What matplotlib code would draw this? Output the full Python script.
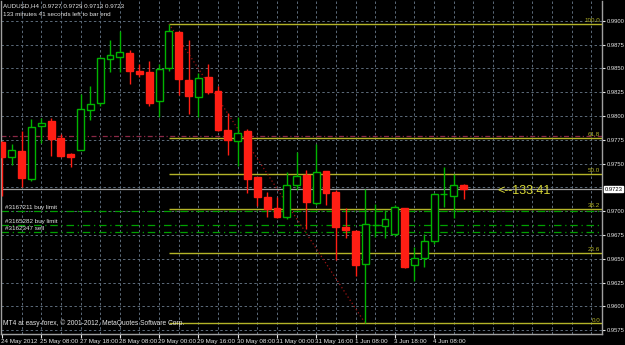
import numpy as np
import matplotlib
matplotlib.use("Agg")
import matplotlib.pyplot as plt
import matplotlib.transforms as mtransforms

# AUDUSD H4 candles
opens = [0.9773, 0.9757, 0.9763, 0.9734, 0.9789, 0.9795, 0.9777, 0.9760, 0.9764, 0.9806,
         0.9814, 0.9860, 0.9862, 0.9866, 0.9847, 0.9846, 0.9816, 0.9851, 0.9888, 0.9838,
         0.9820, 0.9841, 0.9826, 0.9785, 0.9774, 0.9784, 0.9736, 0.9715, 0.9703, 0.9694,
         0.9728, 0.9738, 0.9709, 0.9742, 0.9720, 0.9683, 0.9679, 0.9644, 0.9685, 0.9684,
         0.9676, 0.9703, 0.9643, 0.9651, 0.9669, 0.9718, 0.9716, 0.9727]
highs = [0.9774, 0.9771, 0.9784, 0.9797, 0.9798, 0.9798, 0.9781, 0.9761, 0.9823, 0.9832,
         0.9862, 0.9880, 0.9889, 0.9869, 0.9855, 0.9858, 0.9855, 0.9897, 0.9889, 0.9880,
         0.9845, 0.9855, 0.9832, 0.9803, 0.9799, 0.9786, 0.9736, 0.9720, 0.9715, 0.9741,
         0.9762, 0.9743, 0.9771, 0.9742, 0.9722, 0.9703, 0.9680, 0.9723, 0.9708, 0.9701,
         0.9707, 0.9703, 0.9662, 0.9676, 0.9719, 0.9746, 0.9739, 0.9729]
lows = [0.9716, 0.9749, 0.9725, 0.9732, 0.9772, 0.9758, 0.9757, 0.9746, 0.9764, 0.9796,
        0.9811, 0.9846, 0.9846, 0.9834, 0.9841, 0.9811, 0.9799, 0.9847, 0.9822, 0.9802,
        0.9799, 0.9823, 0.9784, 0.9759, 0.9747, 0.9719, 0.9705, 0.9694, 0.9693, 0.9692,
        0.9722, 0.9681, 0.9706, 0.9706, 0.9649, 0.9672, 0.9632, 0.9582, 0.9673, 0.9672,
        0.9674, 0.9640, 0.9627, 0.9641, 0.9665, 0.9704, 0.9693, 0.9713]
closes = [0.9757, 0.9764, 0.9735, 0.9788, 0.9793, 0.9776, 0.9758, 0.9757, 0.9807, 0.9813,
          0.9861, 0.9864, 0.9867, 0.9847, 0.9844, 0.9814, 0.9849, 0.9889, 0.9839, 0.9821,
          0.9840, 0.9825, 0.9785, 0.9775, 0.9782, 0.9734, 0.9715, 0.9702, 0.9694, 0.9727,
          0.9737, 0.9710, 0.9741, 0.9719, 0.9683, 0.9680, 0.9643, 0.9686, 0.9685, 0.9692,
          0.9704, 0.9641, 0.9651, 0.9669, 0.9718, 0.9718, 0.9728, 0.9723]

time_labels = ["24 May 2012", "25 May 08:00", "27 May 18:00", "28 May 08:00", "29 May 00:00",
               "29 May 16:00", "30 May 08:00", "31 May 00:00", "31 May 16:00", "1 Jun 08:00",
               "3 Jun 18:00", "4 Jun 08:00"]
time_label_bars = [0, 4, 8, 12, 16, 20, 24, 28, 32, 36, 40, 44]

price_ticks = [0.9575, 0.9600, 0.9625, 0.9650, 0.9675, 0.9700, 0.9725, 0.9750,
               0.9775, 0.9800, 0.9825, 0.9850, 0.9875, 0.9900]

fib_ratios = [0.0, 0.236, 0.382, 0.5, 0.618, 1.0]
fib_names = ["0.0", "23.6", "38.2", "50.0", "61.8", "100.0"]
fib_start_bar = 17
fib_end_bar = 37

order_prices = [0.9700, 0.9685, 0.9678]
order_names = ["#3167211 buy limit", "#3165282 buy limit", "#3162347 sell"]
maroon_level = 0.9779
bid = 0.9723

BG = "black"
UP = "#00b400"
DOWN = "#ff1e14"
GRID = "#5c6b7a"
FIBC = "#b4b428"
TXT = "#e6e6e6"
FONT = ["Liberation Sans", "DejaVu Sans"]
FS = 4.5

fig = plt.figure(figsize=(6.25, 3.45), dpi=100, facecolor=BG)
ax = fig.add_axes([1 / 625, 11 / 345, 601 / 625, 333 / 345])
ax.set_facecolor(BG)

n = len(opens)
x = np.arange(n)
o, h, l, c = map(np.array, (opens, highs, lows, closes))
up = c >= o

ax.set_xlim(-0.1, 61.1)
ax.set_ylim(0.95709, 0.99209)

# grid
for p in price_ticks:
    ax.axhline(p, color=GRID, lw=0.7, ls=(0, (2.5, 2.5)), zorder=0)
for b in range(2, 62, 2):
    ax.axvline(b, color=GRID, lw=0.7, ls=(0, (2.5, 2.5)), zorder=0)

# candles
w = 0.7
ax.vlines(x[up], l[up], h[up], color=UP, lw=1.0, zorder=3)
ax.vlines(x[~up], l[~up], h[~up], color=DOWN, lw=1.0, zorder=3)
for i in range(n):
    if o[i] == c[i]:
        ax.hlines(o[i], i - w / 2, i + w / 2, color=UP, lw=1.0, zorder=4)
    elif up[i]:
        ax.bar(i, c[i] - o[i], w, bottom=o[i], facecolor=BG, edgecolor=UP, lw=1.0, zorder=4)
    else:
        ax.bar(i, o[i] - c[i], w, bottom=c[i], facecolor=DOWN, edgecolor=DOWN, lw=1.0, zorder=4)

# fibonacci retracement
fib_hi = h[fib_start_bar]
fib_lo = l[fib_end_bar]
for r, name in zip(fib_ratios, fib_names):
    lev = fib_lo + r * (fib_hi - fib_lo)
    ax.hlines(lev, fib_start_bar, 61.1, color=FIBC, lw=1.0, zorder=2)
    ax.text(60.9, lev + 0.00008, name, color=FIBC, fontsize=FS, family=FONT,
            ha="right", va="bottom", zorder=6)
ax.plot([fib_start_bar, fib_end_bar], [fib_hi, fib_lo], color="#a01414", lw=0.9,
        ls=(0, (1, 2)), zorder=2)

# horizontal maroon level
ax.axhline(maroon_level, color="#8a2846", lw=0.9, ls=(0, (4, 2, 1, 2)), zorder=1)

# orders
for p, name in zip(order_prices, order_names):
    ax.axhline(p, color="#00a000", lw=0.9, ls=(0, (6, 3, 1, 3)), zorder=1)
    ax.text(0.35, p + 0.0001, name, color=TXT, fontsize=FS, family=FONT,
            ha="left", va="bottom", zorder=6)

# bid line
ax.axhline(bid, color="#a0a0a0", lw=0.9, zorder=2)
ax.text(50.4, bid - 0.0002, "<--133:41", color="#d6d636", fontsize=9, family=FONT,
        ha="left", va="center", zorder=6)

# axes cosmetics
ax.spines["top"].set_visible(False)
for s in ["left", "right", "bottom"]:
    ax.spines[s].set_color("#a0a0a0")
    ax.spines[s].set_linewidth(1.0)

ax.yaxis.tick_right()
shown = [p for p in price_ticks if abs(p - bid) > 0.0004]
ax.set_yticks(shown)
ax.set_yticklabels(["%.4f" % p for p in shown], family=FONT)
ax.tick_params(axis="y", colors=TXT, labelsize=4.2, length=2.5, width=0.8, pad=0.8,
               direction="out")
ax.set_xticks(time_label_bars)
ax.set_xticklabels(time_labels, family=FONT, ha="left")
ax.tick_params(axis="x", colors=TXT, labelsize=FS, length=3, width=0.8, pad=0.8,
               direction="out")
for lab in ax.get_xticklabels():
    lab.set_transform(lab.get_transform() + mtransforms.ScaledTranslation(-1 / 100, 0, fig.dpi_scale_trans))

# current price box on the axis
trans = mtransforms.blended_transform_factory(ax.transAxes, ax.transData)
ax.text(1.0045, bid, "%.4f" % bid, transform=trans, color="black", fontsize=4.2, family=FONT,
        ha="left", va="center", zorder=7,
        bbox=dict(boxstyle="square,pad=0.12", facecolor="white", edgecolor="white"))

# header and footer text
ax.text(0.004, 0.992, "AUDUSD,H4  0.9727 0.9729 0.9713 0.9723", transform=ax.transAxes,
        color=TXT, fontsize=FS, family=FONT, ha="left", va="top")
ax.text(0.004, 0.968, "133 minutes 41 seconds left to bar end", transform=ax.transAxes,
        color=TXT, fontsize=FS, family=FONT, ha="left", va="top")
ax.text(0.004, 0.02, "MT4 at easy-forex, \u00a9 2001-2012, MetaQuotes Software Corp.",
        transform=ax.transAxes, color=TXT, fontsize=4.8, family=FONT, ha="left", va="bottom")

fig.savefig("out.png", dpi=100, facecolor=BG)
